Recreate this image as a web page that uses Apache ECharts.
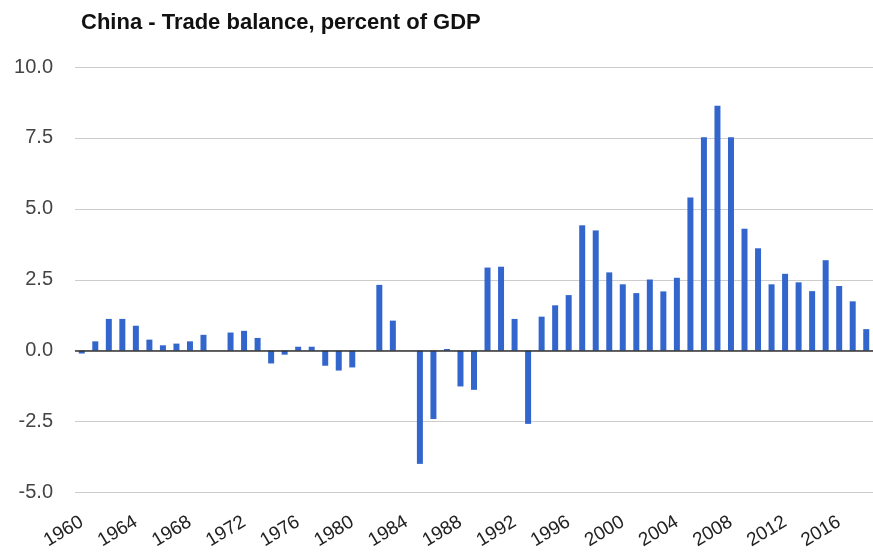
<!DOCTYPE html>
<html><head><meta charset="utf-8">
<script src="https://cdn.jsdelivr.net/npm/echarts@6/dist/echarts.min.js"></script>
<style>html,body{margin:0;padding:0;background:#fff}#c{width:873px;height:552px}</style>
</head><body><div id="c"></div>
<script>
const years = [];
for (let y = 1960; y <= 2018; y++) years.push(String(y));
const values = [
  -0.1, 0.33, 1.12, 1.12, 0.88, 0.39, 0.19, 0.25, 0.33, 0.56,
  0.0, 0.64, 0.7, 0.45, -0.45, -0.14, 0.14, 0.14, -0.53, -0.7,
  -0.59, 0.0, 2.32, 1.06, 0.0, -3.99, -2.41, 0.06, -1.26, -1.38,
  2.93, 2.96, 1.12, -2.58, 1.2, 1.6, 1.96, 4.42, 4.24, 2.76,
  2.34, 2.03, 2.51, 2.09, 2.57, 5.4, 7.52, 8.63, 7.52, 4.3,
  3.61, 2.34, 2.71, 2.41, 2.1, 3.19, 2.28, 1.74, 0.76
];
const yTicks = [-5, -2.5, 0, 2.5, 5, 7.5, 10];
const title = 'China - Trade balance, percent of GDP';

const chart = echarts.init(document.getElementById('c'), null, {renderer: 'canvas'});
chart.setOption({
  animation: false,
  backgroundColor: '#fff',
  title: {
    text: title, left: 76, top: 7,
    textStyle: {fontFamily: 'Liberation Sans, Arial, sans-serif', fontWeight: 'bold', fontSize: 22, color: '#111'}
  },
  grid: {left: 75, right: -5, top: 67, bottom: 58, containLabel: false},
  xAxis: {
    type: 'category', data: years,
    axisLine: {show: false}, axisTick: {show: false},
    axisLabel: {
      interval: 3, rotate: 31, margin: 28,
      fontFamily: 'Liberation Sans, Arial, sans-serif', fontSize: 19, color: '#222'
    }
  },
  yAxis: {
    type: 'value', min: yTicks[0], max: yTicks[yTicks.length - 1], interval: 2.5,
    axisLine: {show: false}, axisTick: {show: false},
    splitLine: {lineStyle: {color: '#cccccc', width: 1}},
    axisLabel: {
      margin: 22, fontFamily: 'Liberation Sans, Arial, sans-serif', fontSize: 20, color: '#444',
      formatter: v => v.toFixed(1)
    }
  },
  series: [{
    type: 'bar', data: values, barWidth: 6,
    itemStyle: {color: '#3366cc'},
    markLine: {
      symbol: 'none', silent: true, label: {show: false},
      lineStyle: {color: '#333', width: 1.5, type: 'solid'},
      data: [{yAxis: 0}]
    }
  }]
});
</script>
</body></html>
